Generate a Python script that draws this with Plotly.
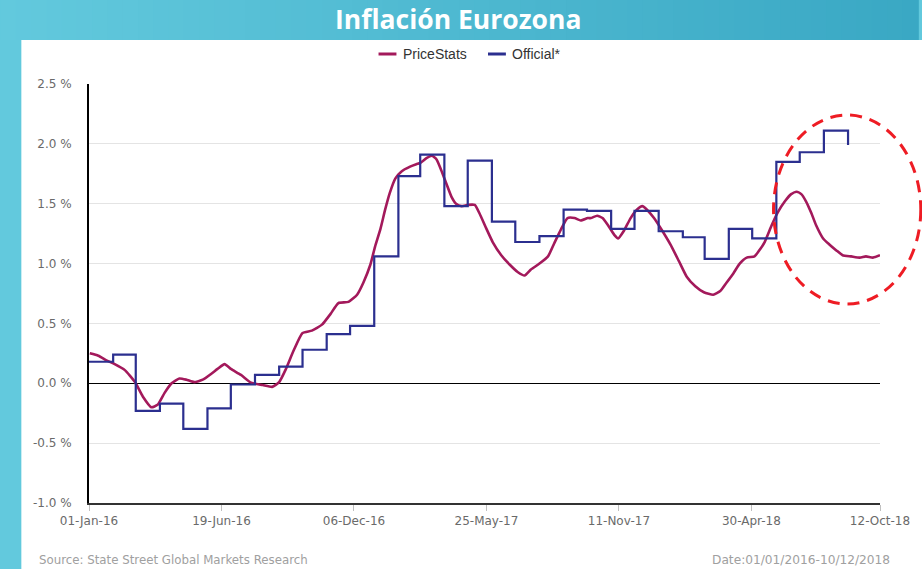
import plotly.graph_objects as go
import pandas as pd

# ---------------- data ----------------
official_dates = [
    "2016-01-01", "2016-02-01", "2016-03-01", "2016-04-01", "2016-05-01", "2016-06-01",
    "2016-07-01", "2016-08-01", "2016-09-01", "2016-10-01", "2016-11-01", "2016-12-01",
    "2017-01-01", "2017-02-01", "2017-03-01", "2017-04-01", "2017-05-01", "2017-06-01",
    "2017-07-01", "2017-08-01", "2017-09-01", "2017-10-01", "2017-11-01", "2017-12-01",
    "2018-01-01", "2018-02-01", "2018-03-01", "2018-04-01", "2018-05-01", "2018-06-01",
    "2018-07-01", "2018-08-01", "2018-09-01",
]
official_values = [
    0.18, 0.24, -0.23, -0.17, -0.38, -0.21,
    -0.01, 0.07, 0.14, 0.28, 0.41, 0.48,
    1.06, 1.73, 1.91, 1.48, 1.86, 1.35,
    1.18, 1.23, 1.45, 1.44, 1.29, 1.44,
    1.27, 1.22, 1.04, 1.29, 1.21, 1.85,
    1.93, 2.11, 1.99,
]

# PriceStats: days since 01-Jan-2016 and value (%)
pricestats_days = [
    1, 12, 23, 33, 46, 59, 69, 80, 88, 97, 106, 116, 125, 135, 146, 157, 165, 174, 182, 195,
    208, 223, 235, 244, 252, 263, 274, 286, 299, 310, 320, 333, 344, 352, 361, 367, 374, 380,
    386, 393, 401, 412, 420, 425, 433, 440, 446, 452, 459, 465, 471, 478, 486, 495, 501, 510,
    518, 529, 540, 550, 559, 567, 578, 589, 597, 606, 614, 623, 631, 640, 644, 652, 659, 667,
    674, 679, 686, 695, 703, 710, 716, 725, 735, 746, 757, 767, 778, 789, 801, 810, 818, 827,
    835, 844, 854, 859, 867, 876, 884, 893, 901, 908, 914, 920, 927, 933, 942, 950, 959, 967,
    978, 989, 997, 1006, 1015,
]
pricestats_values = [
    0.25, 0.23, 0.19, 0.16, 0.11, 0.01, -0.11, -0.20, -0.18, -0.08, 0.00, 0.04, 0.03, 0.01,
    0.03, 0.08, 0.12, 0.16, 0.12, 0.07,
    0.005, -0.015, -0.03, 0.01, 0.11, 0.28, 0.42, 0.44, 0.49, 0.58, 0.67, 0.68, 0.74, 0.84,
    0.99, 1.14, 1.29, 1.45,
    1.59, 1.71, 1.77, 1.81, 1.83, 1.84, 1.88, 1.90, 1.87, 1.78, 1.66, 1.56, 1.50, 1.48, 1.49,
    1.49, 1.42, 1.29,
    1.18, 1.07, 0.99, 0.93, 0.90, 0.95, 1.00, 1.06, 1.17, 1.29, 1.38, 1.38, 1.36, 1.38, 1.38,
    1.40, 1.38, 1.31,
    1.24, 1.21, 1.27, 1.38, 1.45, 1.48, 1.45, 1.38, 1.28, 1.16, 1.02, 0.89, 0.81, 0.76, 0.74,
    0.77, 0.84, 0.92,
    1.00, 1.05, 1.06, 1.10, 1.18, 1.32, 1.43, 1.52, 1.58, 1.60, 1.58, 1.52, 1.42, 1.32, 1.21,
    1.16, 1.11, 1.07,
    1.06, 1.05, 1.06, 1.05, 1.07,
]

x_tick_dates = ["2016-01-01", "2016-06-19", "2016-12-06", "2017-05-25", "2017-11-11",
                "2018-04-30", "2018-10-12"]
x_tick_labels = ["01-Jan-16", "19-Jun-16", "06-Dec-16", "25-May-17", "11-Nov-17",
                 "30-Apr-18", "12-Oct-18"]
y_tick_values = [-1.0, -0.5, 0.0, 0.5, 1.0, 1.5, 2.0, 2.5]
y_tick_labels = ["-1.0 %", "-0.5 %", "0.0 %", "0.5 %", "1.0 %", "1.5 %", "2.0 %", "2.5 %"]

series_names = ["PriceStats", "Official*"]
series_colors = ["#a3195b", "#2b2f8f"]

pricestats_dates = pd.Timestamp("2016-01-01") + pd.to_timedelta(pricestats_days, unit="D")

# ---------------- figure ----------------
W, H = 922, 569
ML, MR, MT, MB = 89, 38, 84, 66
PW, PH = W - ML - MR, H - MT - MB


def px(x):
    return (x - ML) / PW


def py(y):
    return (H - MB - y) / PH


fig = go.Figure()
fig.add_trace(go.Scatter(
    x=pricestats_dates, y=pricestats_values, mode="lines", name=series_names[0],
    line=dict(color=series_colors[0], width=2.6, shape="spline", smoothing=0.5),
))
fig.add_trace(go.Scatter(
    x=official_dates, y=official_values, mode="lines", name=series_names[1],
    line=dict(color=series_colors[1], width=2.2, shape="hv"),
))

shapes = []
# white panel
shapes.append(dict(type="rect", xref="paper", yref="paper", x0=px(21), x1=px(W + 5),
                   y0=py(H + 5), y1=py(40), fillcolor="white", line=dict(width=0),
                   layer="below"))
# teal gradient strips on top band
n = 60
c0 = (98, 201, 221)
c1 = (58, 168, 196)
for i in range(n):
    t = i / (n - 1)
    c = tuple(int(round(c0[k] + (c1[k] - c0[k]) * t)) for k in range(3))
    xa = W * i / n
    xb = W * (i + 1) / n + 1
    shapes.append(dict(type="rect", xref="paper", yref="paper", x0=px(xa), x1=px(xb),
                       y0=py(40), y1=py(-2), fillcolor="rgb(%d,%d,%d)" % c,
                       line=dict(width=0), layer="below"))
# red dashed ellipse
shapes.append(dict(type="circle", xref="paper", yref="paper", x0=px(777), x1=px(925),
                   y0=py(304), y1=py(115), line=dict(color="#ee1c24", width=3,
                                                    dash="12px,8px")))

annotations = [
    dict(text="<b>Inflación Eurozona</b>", xref="paper", yref="paper", x=px(460), y=py(19),
         xanchor="center", yanchor="middle", showarrow=False,
         font=dict(family="Open Sans, Lato, sans-serif", size=26.5, color="white")),
    dict(text="Source: State Street Global Markets Research", xref="paper", yref="paper",
         x=px(37), y=py(560), xanchor="left", yanchor="middle", showarrow=False,
         font=dict(family="DejaVu Sans, sans-serif", size=11.8, color="#a0a0a0")),
    dict(text="Date:01/01/2016-10/12/2018", xref="paper", yref="paper",
         x=px(896), y=py(560), xanchor="right", yanchor="middle", showarrow=False,
         font=dict(family="DejaVu Sans, sans-serif", size=12.2, color="#a0a0a0")),
]

# manual legend (short swatches like the reference)
legend_items = [(380, 403), (490, 512)]
for (lx, tx), name, col in zip(legend_items, series_names, series_colors):
    shapes.append(dict(type="line", xref="paper", yref="paper", x0=px(lx), x1=px(lx + 18),
                       y0=py(54), y1=py(54), line=dict(color=col, width=3)))
    annotations.append(dict(text=name, xref="paper", yref="paper", x=px(tx), y=py(54),
                            xanchor="left", yanchor="middle", showarrow=False,
                            font=dict(family="Liberation Sans, Arial, sans-serif", size=14,
                                      color="#333333")))

fig.update_layout(
    width=W, height=H,
    margin=dict(l=ML, r=MR, t=MT, b=MB, pad=0),
    paper_bgcolor="rgb(98,201,221)",
    plot_bgcolor="rgba(0,0,0,0)",
    font=dict(family="DejaVu Sans, sans-serif", size=12, color="#666666"),
    showlegend=False,
    shapes=shapes,
    annotations=annotations,
)
fig.update_xaxes(
    type="date", range=["2016-01-01", "2018-10-12"],
    tickvals=x_tick_dates, ticktext=x_tick_labels,
    showgrid=False, zeroline=False,
    showline=True, linecolor="#333333", linewidth=1.5,
    ticks="outside", ticklen=6, tickcolor="#c0c0c0", tickwidth=1,
    tickfont=dict(family="DejaVu Sans, sans-serif", size=12, color="#6a6a6a"),
)
fig.update_yaxes(
    range=[-1.0, 2.5], tickvals=y_tick_values, ticktext=y_tick_labels,
    showgrid=True, gridcolor="#e4e4e4", gridwidth=1,
    zeroline=True, zerolinecolor="black", zerolinewidth=1.2,
    showline=True, linecolor="black", linewidth=2,
    ticks="", ticklabelstandoff=13,
    tickfont=dict(family="DejaVu Sans, sans-serif", size=12, color="#6a6a6a"),
)

fig.write_html("out.html", config={"displayModeBar": False},
               post_script="document.body.style.margin='0';")
